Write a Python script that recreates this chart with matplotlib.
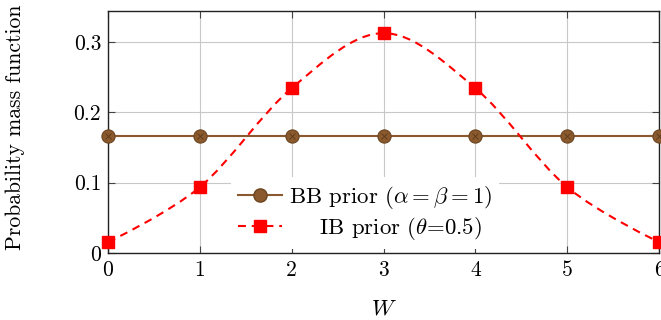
import numpy as np
import matplotlib
matplotlib.use("Agg")
import matplotlib.pyplot as plt
from matplotlib.path import Path
from matplotlib.patches import PathPatch
from matplotlib.lines import Line2D

plt.rcParams['font.family'] = ['cmr10', 'DejaVu Serif']
plt.rcParams['mathtext.fontset'] = 'cm'
plt.rcParams['axes.formatter.use_mathtext'] = True

W = [0, 1, 2, 3, 4, 5, 6]
bb_prior = [0.1667, 0.1667, 0.1667, 0.1667, 0.1667, 0.1667, 0.1667]
ib_prior = [0.015625, 0.09375, 0.234375, 0.3125, 0.234375, 0.09375, 0.015625]
xticks = [0, 1, 2, 3, 4, 5, 6]
yticks = [0, 0.1, 0.2, 0.3]
ytick_labels = ['0', '0.1', '0.2', '0.3']
bb_label = r'BB prior ($\alpha = \beta = 1$)'
ib_label = r'IB prior ($\theta$=0.5)'
xlabel = r'$W$'
ylabel = 'Probability mass function'

brown = '#8a5a2e'
brown_dark = '#6b4420'
red = '#ff0000'
fs = 15.5
fs_lab = 16.4
fs_ylab = 15.6

fig = plt.figure(figsize=(6.61, 3.2), dpi=100)
ax = fig.add_axes([0.1634, 0.209, 0.8336, 0.7566])
ax.set_xlim(0, 6)
ax.set_ylim(0, 0.344)

ax.grid(True, color='#c8c8c8', lw=0.8)
ax.set_axisbelow(True)

# BB prior line
ax.plot(W, bb_prior, color=brown, lw=1.5, zorder=3)
ax.plot(W, bb_prior, ls='none', marker='o', ms=9.5, mfc=brown, mec=brown_dark,
        mew=0.8, zorder=4, clip_on=False)
ax.plot(W, bb_prior, ls='none', marker='x', ms=5, mec='#5a3818', mew=0.6,
        zorder=5, clip_on=False)

# IB prior smooth dashed curve (Catmull-Rom style bezier through data points)
x = np.array(W, dtype=float)
y = np.array(ib_prior, dtype=float)
pts = np.column_stack([x, y])
n = len(pts)
f = 1/6
verts = [pts[0]]
codes = [Path.MOVETO]
for i in range(n - 1):
    p0 = pts[i - 1] if i > 0 else pts[i]
    p1 = pts[i]
    p2 = pts[i + 1]
    p3 = pts[i + 2] if i + 2 < n else pts[i + 1]
    c1 = p1 + f * (p2 - p0) if i > 0 else p1
    c2 = p2 - f * (p3 - p1) if i + 2 < n else p2
    verts += [c1, c2, p2]
    codes += [Path.CURVE4] * 3
path = Path(verts, codes)
patch = PathPatch(path, fill=False, edgecolor=red, lw=1.5, zorder=3)
patch.set_linestyle((0, (3.8, 2.8)))
ax.add_patch(patch)
ax.plot(W, ib_prior, ls='none', marker='s', ms=8, mfc=red, mec=red,
        zorder=6, clip_on=False)

ax.set_xticks(xticks)
ax.set_xticklabels([str(t) for t in xticks])
ax.set_yticks(yticks)
ax.set_yticklabels(ytick_labels)
ax.tick_params(direction='in', length=5, width=0.8, color='#444444',
               top=True, right=True, labelsize=fs, pad=5)
for s in ax.spines.values():
    s.set_linewidth(1.0)
    s.set_color('#222222')

ax.set_xlabel(xlabel, fontsize=fs_lab)
ax.xaxis.set_label_coords(0.5, -0.19)
ax.set_ylabel(ylabel, fontsize=fs_ylab)
ax.yaxis.set_label_coords(-0.15, 0.52)

h_bb = Line2D([], [], color=brown, lw=1.5, marker='o', ms=9.5, mfc=brown, mec=brown_dark)
h_ib = Line2D([], [], color=red, lw=1.5, ls=(0, (3.8, 2.8)), marker='s', ms=8, mfc=red, mec=red)
leg = ax.legend([h_bb, h_ib], [bb_label, '    ' + ib_label], loc='lower left',
                bbox_to_anchor=(0.223, 0.017), frameon=True, fontsize=fs_lab,
                handlelength=1.95, handletextpad=0.3, borderpad=0.3,
                labelspacing=0.2, borderaxespad=0, fancybox=False)
leg.get_frame().set_edgecolor('none')
leg.get_frame().set_facecolor('white')
leg.get_frame().set_alpha(1)
leg.set_zorder(10)

fig.savefig('out.png', dpi=100)
